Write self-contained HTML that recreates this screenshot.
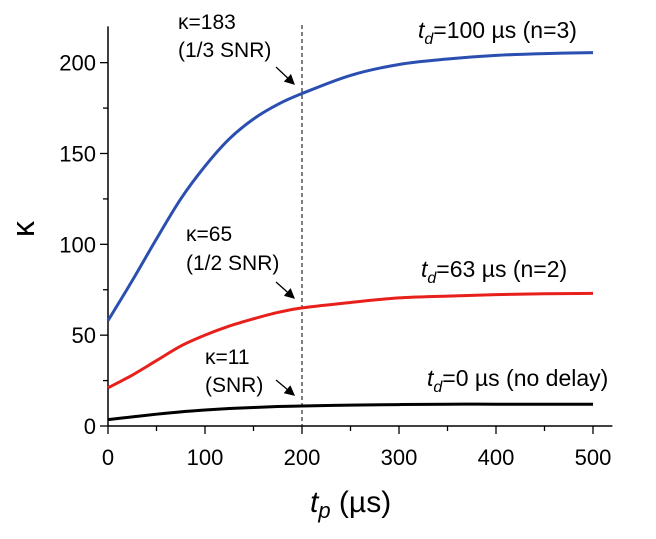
<!DOCTYPE html>
<html><head><meta charset="utf-8"><style>
html,body{margin:0;padding:0;background:#fff;}
svg{display:block;font-family:"Liberation Sans",Arial,sans-serif;}
</style></head><body>
<svg id="chart" width="656" height="539" viewBox="0 0 656 539">
<defs><marker id="ah" markerWidth="8" markerHeight="8" refX="7" refY="4" orient="auto"><path d="M0,0 L8,4 L0,8 z" fill="#000"/></marker></defs>
<g id="axes"></g><g id="series"></g><g id="annot"></g>
</svg>
<script>
const xValues = [0,25,50,75,100,125,150,175,200,250,300,350,400,450,500];
const blueValues = [58,80,103,125,143,158,169,177,183,193,199,202,204,205,205.5];
const redValues = [21,28,36,44,50,55,59,62.5,65,68,70.5,71.5,72.3,72.8,73];
const blackValues = [3.5,5,6.5,7.8,8.8,9.6,10.2,10.7,11,11.5,11.8,12,12,12,12];
const xTicks = [0,100,200,300,400,500];
const yTicks = [0,50,100,150,200];
const markerX = 200;

const NS="http://www.w3.org/2000/svg";
const X0=108, XS=0.97, Y0=426, YS=1.8167;
const sx=v=>X0+v*XS, sy=v=>Y0-v*YS;
function mk(tag,attrs,parent,text){const e=document.createElementNS(NS,tag);for(const k in attrs)e.setAttribute(k,attrs[k]);if(text!=null)e.textContent=text;parent.appendChild(e);return e;}
const axes=document.getElementById('axes'), series=document.getElementById('series');

let yAxis=mk('line',{x1:X0,y1:sy(220),x2:X0,y2:Y0,stroke:'#000','stroke-width':1.5},axes);


let xAxis=mk('line',{x1:X0,y1:Y0,x2:sx(520),y2:Y0,stroke:'#000','stroke-width':1.5},axes);



for(let v=0;v<=500;v+=50){const major=v%100===0;
 const t=mk('line',{x1:sx(v),y1:Y0,x2:sx(v),y2:Y0+(major?8:5),stroke:'#000','stroke-width':1.3},axes);
 
 }
xTicks.forEach(v=>{const t=mk('text',{x:sx(v),y:465,'font-size':22,'text-anchor':'middle'},axes,String(v));
 
 });
for(let v=0;v<=200;v+=25){const major=v%50===0;
 const t=mk('line',{x1:X0,y1:sy(v),x2:X0-(major?8:5),y2:sy(v),stroke:'#000','stroke-width':1.3},axes);
 
 }
yTicks.forEach(v=>{const t=mk('text',{x:96,y:sy(v)+8,'font-size':22,'text-anchor':'end'},axes,String(v));
 
 });

let dl=mk('line',{x1:sx(markerX),y1:25,x2:sx(markerX),y2:Y0,stroke:'#000','stroke-width':1,'stroke-dasharray':'4,3'},axes);



function curve(vals,color,name){
 const d=xValues.map((x,i)=>[sx(x),sy(vals[i])]);
 let p='M'+d[0][0]+','+d[0][1];
 for(let i=0;i<d.length-1;i++){const p0=d[i-1]||d[i],p1=d[i],p2=d[i+1],p3=d[i+2]||p2;
  p+=` C${p1[0]+(p2[0]-p0[0])/6},${p1[1]+(p2[1]-p0[1])/6} ${p2[0]-(p3[0]-p1[0])/6},${p2[1]-(p3[1]-p1[1])/6} ${p2[0]},${p2[1]}`;}
 const e=mk('path',{d:p,fill:'none',stroke:color,'stroke-width':3},series);
 
 
}
curve(blueValues,'#2a4fb0','curve-td-100');
curve(redValues,'#e8201c','curve-td-63');
curve(blackValues,'#000','curve-td-0');

const ann=document.getElementById('annot');
ann.innerHTML=`
<text x="178" y="29" font-size="21">κ=183</text>
<text x="178" y="57" font-size="21">(1/3 SNR)</text>
<line x1="276" y1="67" x2="294" y2="84" stroke="#000" stroke-width="1.3" marker-end="url(#ah)"/>
<text x="186" y="241" font-size="21">κ=65</text>
<text x="186" y="270" font-size="21">(1/2 SNR)</text>
<line x1="276" y1="282" x2="294" y2="298" stroke="#000" stroke-width="1.3" marker-end="url(#ah)"/>
<text x="205" y="364" font-size="21">κ=11</text>
<text x="205" y="392" font-size="21">(SNR)</text>
<line x1="276" y1="380" x2="294" y2="395" stroke="#000" stroke-width="1.3" marker-end="url(#ah)"/>
<text x="418" y="38" font-size="23"><tspan font-style="italic">t</tspan><tspan font-style="italic" font-size="16" dy="6">d</tspan><tspan dy="-6">=100 µs (n=3)</tspan></text>
<text x="421" y="277" font-size="23"><tspan font-style="italic">t</tspan><tspan font-style="italic" font-size="16" dy="6">d</tspan><tspan dy="-6">=63 µs (n=2)</tspan></text>
<text x="427" y="386" font-size="23"><tspan font-style="italic">t</tspan><tspan font-style="italic" font-size="16" dy="6">d</tspan><tspan dy="-6">=0 µs (no delay)</tspan></text>
<text x="0" y="0" font-size="32" text-anchor="middle" transform="translate(34,229) rotate(-90)">κ</text>
<text x="310" y="512" font-size="30"><tspan font-style="italic">t</tspan><tspan font-style="italic" font-size="22" dy="6">p</tspan><tspan dy="-6"> (µs)</tspan></text>`;
</script>
</body></html>
